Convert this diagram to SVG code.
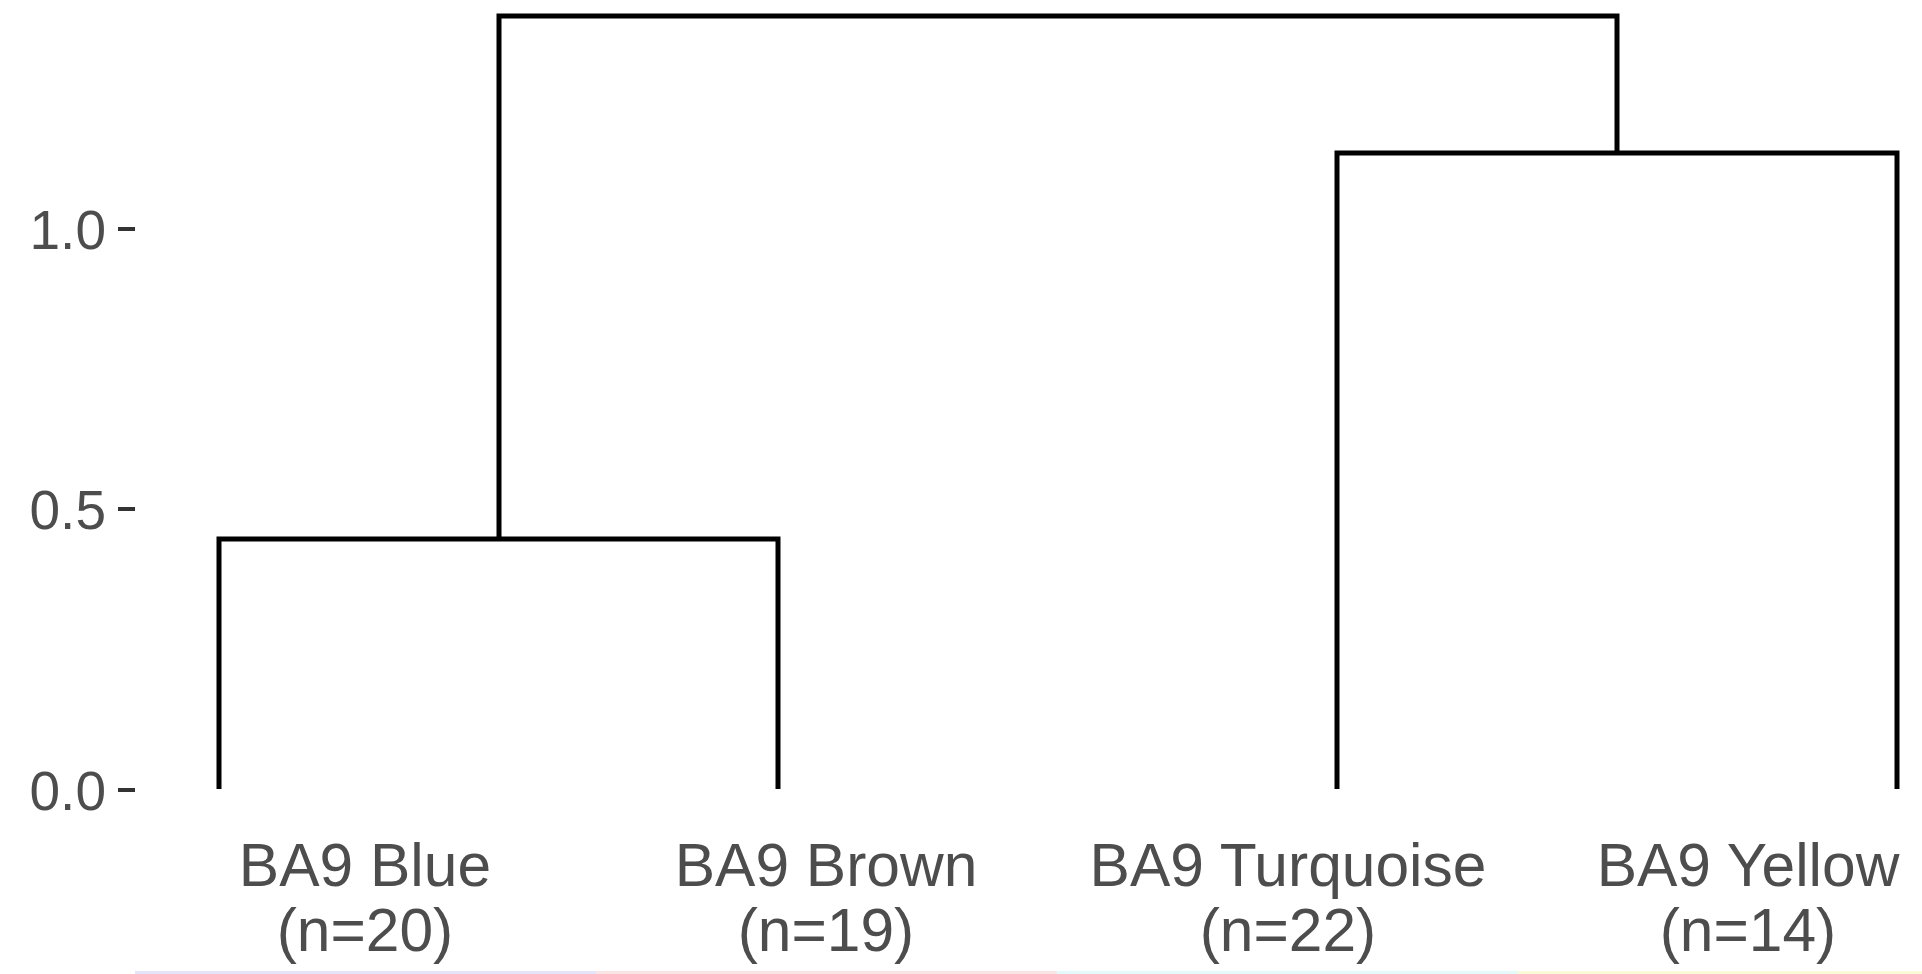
<svg xmlns="http://www.w3.org/2000/svg" width="1922" height="974" viewBox="0 0 1922 974">
<style>
.branch{fill:none;stroke:#000;stroke-width:5;stroke-linecap:butt;stroke-linejoin:miter}
.tick{stroke:#333;stroke-width:4}
.tlab{font-family:"Liberation Sans",Arial,sans-serif;font-size:55px;fill:#4d4d4d;text-anchor:end}
.lab{font-family:"Liberation Sans",Arial,sans-serif;font-size:60.5px;fill:#4d4d4d;text-anchor:middle}
</style>
<rect width="1922" height="974" fill="#fff"/>
<g id="y-axis">
<line class="tick" x1="118" y1="229" x2="135" y2="229"/>
<line class="tick" x1="118" y1="509" x2="135" y2="509"/>
<line class="tick" x1="118" y1="790" x2="135" y2="790"/>
<text class="tlab" x="106" y="249">1.0</text>
<text class="tlab" x="106" y="529">0.5</text>
<text class="tlab" x="106" y="810">0.0</text>
</g>
<g id="connectors">
<path class="branch" d="M219,789 V539 H778 V789"/>
<path class="branch" d="M1337,789 V153 H1897 V789"/>
<path class="branch" d="M499,539 V16 H1617 V153"/>
</g>
<g id="node-blue">
<text class="lab" x="365" y="886">BA9 Blue</text>
<text class="lab" x="365" y="951">(n=20)</text>
</g>
<g id="node-brown">
<text class="lab" x="826" y="886">BA9 Brown</text>
<text class="lab" x="826" y="951">(n=19)</text>
</g>
<g id="node-turquoise">
<text class="lab" x="1288" y="886">BA9 Turquoise</text>
<text class="lab" x="1288" y="951">(n=22)</text>
</g>
<g id="node-yellow">
<text class="lab" x="1748" y="886">BA9 Yellow</text>
<text class="lab" x="1748" y="951">(n=14)</text>
</g>
<g id="color-strip">
<rect x="135" y="971" width="461" height="3" fill="#e4e4fa"/>
<rect x="596" y="971" width="461" height="3" fill="#fae4e4"/>
<rect x="1057" y="971" width="461" height="3" fill="#e4fafa"/>
<rect x="1518" y="971" width="404" height="3" fill="#fafad8"/>
</g>
</svg>
